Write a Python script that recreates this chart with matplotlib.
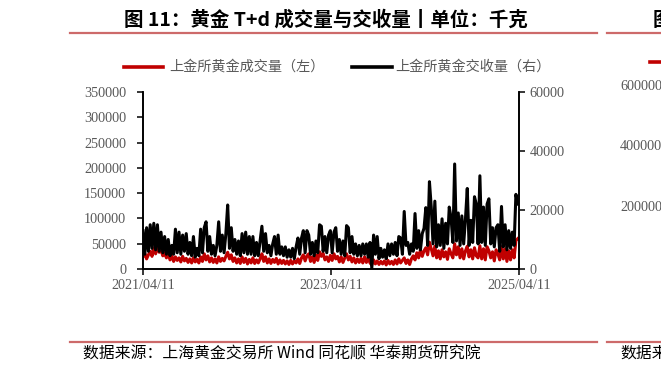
import pandas as pd
import matplotlib
matplotlib.use("Agg")
import matplotlib.pyplot as plt
import matplotlib.dates as mdates
from matplotlib.lines import Line2D

plt.rcParams['font.family'] = ['Noto Sans CJK SC', 'DejaVu Sans']

# weekly readings, 2021/04/11 onwards
start = "2021-04-11"

# 上金所黄金成交量 (left axis, kg)
volume = [
    24000, 31000, 20000, 28000, 35000, 25000, 42000, 30000, 44000, 33000,
    38000, 26000, 32000, 22000, 30000, 18000, 26000, 15000, 24000, 17000,
    22000, 14000, 25000, 16000, 21000, 13000, 20000, 12000, 22000, 14000,
    19000, 12000, 24000, 15000, 30000, 18000, 26000, 14000, 22000, 13000,
    20000, 12000, 24000, 15000, 21000, 16000, 25000, 33000, 20000, 28000,
    15000, 22000, 12000, 20000, 11000, 24000, 13000, 21000, 10000, 19000,
    12000, 22000, 11000, 18000, 12000, 20000, 30000, 15000, 24000, 12000,
    20000, 11000, 19000, 13000, 21000, 10000, 18000, 11000, 17000, 10000,
    16000, 9000, 17000, 10000, 16000, 12000, 20000, 11000, 22000, 28000,
    16000, 26000, 30000, 15000, 24000, 13000, 28000, 17000, 34000, 25000,
    31000, 18000, 24000, 15000, 27000, 17000, 30000, 20000, 25000, 14000,
    24000, 13000, 22000, 30000, 18000, 25000, 14000, 22000, 12000, 20000,
    13000, 21000, 12000, 24000, 13000, 22000, 12000, 8000, 18000, 10000,
    16000, 9000, 15000, 10000, 16000, 8000, 17000, 10000, 15000, 9000,
    18000, 10000, 20000, 12000, 17000, 22000, 11000, 18000, 9000, 20000,
    26000, 18000, 32000, 22000, 38000, 25000, 36000, 42000, 28000, 53000,
    40000, 26000, 45000, 22000, 36000, 20000, 38000, 24000, 34000, 19000,
    40000, 30000, 22000, 50000, 28000, 44000, 22000, 40000, 20000, 36000,
    45000, 24000, 38000, 20000, 42000, 26000, 22000, 46000, 20000, 40000,
    18000, 44000, 36000, 22000, 34000, 16000, 38000, 30000, 18000, 44000,
    20000, 40000, 15000, 36000, 18000, 38000, 22000, 56000, 60000,
]

# 上金所黄金交收量 (right axis, kg)
delivery = [
    13000, 5000, 14000, 6000, 15000, 7000, 15500, 6500, 15000, 6000,
    12500, 5500, 11000, 5000, 10000, 4500, 8000, 5000, 13500, 5500,
    12500, 5000, 11500, 6000, 12000, 5000, 9000, 4500, 11000, 4000,
    7000, 4500, 13500, 5500, 14000, 16000, 6000, 11000, 5000, 8000,
    4500, 8000, 16000, 6000, 11500, 5500, 12000, 21700, 7000, 14000,
    6000, 10000, 5000, 9500, 4500, 12000, 5500, 12500, 5000, 11000,
    5000, 11000, 4500, 9000, 4500, 9500, 14500, 6000, 12000, 5500,
    8000, 4500, 8500, 11000, 5000, 11500, 5000, 7500, 4500, 7500,
    4000, 6500, 4000, 7000, 3500, 7500, 10500, 5000, 10500, 13000,
    5500, 13000, 11500, 5000, 9000, 4500, 9500, 5500, 15000, 14500,
    6000, 11000, 5500, 11500, 13000, 5500, 12500, 14000, 6000, 10000,
    5000, 9500, 4500, 14700, 14000, 5500, 11000, 5000, 8500, 4500,
    8000, 4500, 8500, 5000, 8500, 4000, 9000, 300, 11500, 5000,
    11000, 3500, 7000, 4000, 6500, 3500, 8500, 4500, 8500, 5000,
    9000, 4500, 11000, 10500, 5000, 19500, 8000, 9000, 5000, 8500,
    6000, 18800, 7000, 13000, 6500, 12000, 13800, 20800, 8000, 29600,
    21000, 8500, 23000, 7500, 15000, 8000, 17000, 7000, 15500, 8500,
    21000, 17400, 9000, 35600, 9500, 19000, 8000, 18000, 8500, 17000,
    27300, 8000, 16500, 9000, 24500, 22000, 8500, 31600, 9000, 21000,
    8000, 22000, 23800, 8500, 14000, 7500, 14000, 15000, 6000, 21200,
    7500, 15000, 6500, 13000, 7000, 12500, 8000, 25300, 22000,
]

dates = pd.date_range(start, periods=len(volume), freq="7D")
date_ticks = pd.to_datetime(["2021-04-11", "2023-04-11", "2025-04-11"])

W, H = 661, 372
fig = plt.figure(figsize=(W / 100, H / 100), dpi=100)

def fx(x):
    return x / W

def fy(y):
    return 1 - y / H

ax = fig.add_axes([fx(143), fy(269), fx(519) - fx(143), fy(92) - fy(269)])
ax2 = ax.twinx()

ax.plot(dates, volume, color="#C00000", lw=2.2)
ax2.plot(dates, delivery, color="black", lw=2.2)

ax.set_xlim(date_ticks[0], date_ticks[-1])
ax.set_ylim(0, 350000)
ax2.set_ylim(0, 60000)
ax.set_yticks(range(0, 350001, 50000))
ax2.set_yticks(range(0, 60001, 20000))
ax.set_xticks(date_ticks)
ax.xaxis.set_major_formatter(mdates.DateFormatter("%Y/%m/%d"))

grey = "#595959"
for a in (ax, ax2):
    a.spines["top"].set_visible(False)
    for s in ("left", "right", "bottom"):
        a.spines[s].set_linewidth(1.2)
    a.tick_params(length=4, width=1.1, colors="black", labelcolor=grey,
                  labelsize=10.2, pad=3)
    for lab in a.get_xticklabels() + a.get_yticklabels():
        lab.set_family("Liberation Serif")
ax.tick_params(axis="y", pad=8)
ax2.tick_params(axis="y", pad=3.5)

# legend
fig.add_artist(Line2D([fx(124), fx(163)], [fy(67), fy(67)], color="#C00000", lw=2.6))
fig.text(fx(169), fy(67), "上金所黄金成交量（左）", color=grey, fontsize=10.2, va="center")
fig.add_artist(Line2D([fx(352), fx(392)], [fy(67), fy(67)], color="black", lw=2.6))
fig.text(fx(395), fy(67), "上金所黄金交收量（右）", color=grey, fontsize=10.2, va="center")

# title and frame lines
rule = "#CD6A6A"
fig.text(fx(326), fy(20), "图 11：黄金 T+d 成交量与交收量丨单位：千克",
         fontsize=14, fontweight="bold", ha="center", va="center")
fig.add_artist(Line2D([fx(70), fx(597)], [fy(33), fy(33)], color=rule, lw=1.6))
fig.add_artist(Line2D([fx(70), fx(597)], [fy(342), fy(342)], color=rule, lw=1.6))
fig.text(fx(83), fy(354), "数据来源：上海黄金交易所 Wind 同花顺 华泰期货研究院",
         fontsize=11.4, va="center")

# edge of the neighbouring chart
fig.add_artist(Line2D([fx(607), fx(661)], [fy(33), fy(33)], color=rule, lw=1.6))
fig.add_artist(Line2D([fx(607), fx(661)], [fy(342), fy(342)], color=rule, lw=1.6))
fig.add_artist(Line2D([fx(650), fx(661)], [fy(62), fy(62)], color="#C00000", lw=2.6))
fig.text(fx(653), fy(20), "图", fontsize=14, fontweight="bold", va="center")
for lab, y in (("600000", 87), ("400000", 147), ("200000", 208)):
    fig.text(fx(620), fy(y), lab, color=grey, fontsize=10.2, va="center",
             family="Liberation Serif")
fig.text(fx(620), fy(354), "数据来源", fontsize=11.4, va="center")

fig.savefig("out.png", dpi=100)
